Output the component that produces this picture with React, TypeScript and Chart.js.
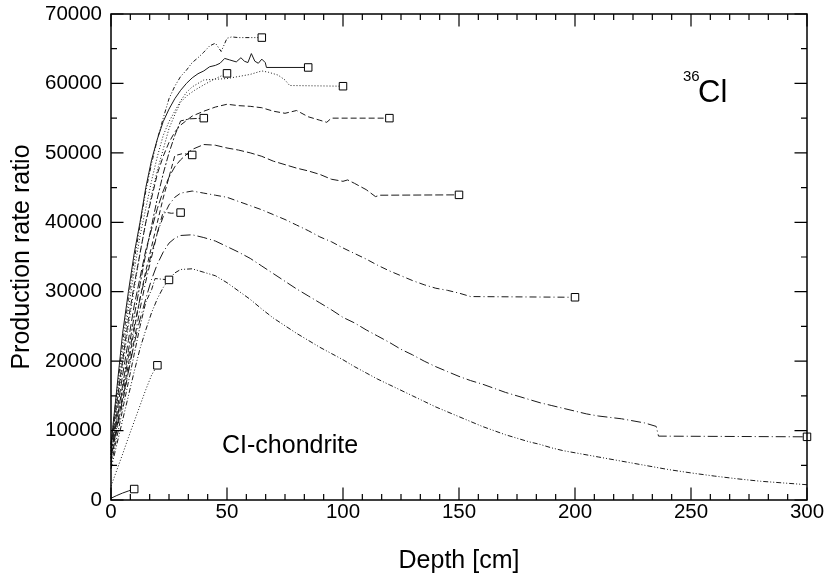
import React, { useEffect, useRef } from "react";
import { Chart, registerables } from "chart.js";

Chart.register(...registerables);

// ---------- axis ticks & texts ----------
const xTickValues = [0, 50, 100, 150, 200, 250, 300];
const yTickValues = [0, 10000, 20000, 30000, 40000, 50000, 60000, 70000];
const xTitle = "Depth [cm]";
const yTitle = "Production rate ratio";
const nuclideMass = "36";
const nuclideSymbol = "Cl";
const sampleLabel = "CI-chondrite";

// ---------- series (meteoroid radius in cm -> depth profile) ----------
const depth10 = [0, 2.5, 5, 7.5, 10];
const rate10 = [250, 650, 1000, 1300, 1580];

const depth20 = [0, 2.5, 5, 7.5, 10, 12.5, 15, 17.5, 20];
const rate20 = [2000, 4300, 6600, 9000, 11300, 13600, 15900, 18000, 19400];

const depth25 = [0, 2.5, 5, 7.5, 10, 12.5, 15, 17.5, 19, 22, 25];
const rate25 = [5000, 9000, 13000, 17000, 21000, 25000, 28500, 30300, 31900, 31800, 31700];

const depth30 = [0, 2.5, 5, 7.5, 10, 12.5, 15, 17.5, 20, 22.5, 26, 30];
const rate30 = [5500, 10000, 14000, 18500, 23000, 27500, 31500, 35000, 38500, 41500, 41300, 41400];

const depth35 = [0, 2.5, 5, 7.5, 10, 12.5, 15, 17.5, 20, 22.5, 25, 27.5, 31, 35];
const rate35 = [6000, 10500, 15000, 19500, 24500, 29000, 33000, 36500, 40000, 43500, 46500, 49600, 49900, 49700];

const depth40 = [0, 2.5, 5, 7.5, 10, 12.5, 15, 17.5, 20, 22.5, 25, 27.5, 30, 34, 40];
const rate40 = [6500, 11500, 16500, 21500, 26500, 31000, 35500, 39500, 43500, 47000, 50000, 52500, 54600, 54900, 55000];

const depth50 = [0, 2.5, 5, 7.5, 10, 12.5, 15, 17.5, 20, 22.5, 25, 27.5, 30, 33, 36, 40, 45, 50];
const rate50 = [7000, 13500, 19500, 25000, 30500, 35500, 40000, 44000, 47500, 50500, 53500, 55500, 57300, 58300, 59000, 59800, 60700, 61450];

const depth65 = [0, 2.5, 5, 7.5, 10, 12.5, 15, 17.5, 20, 22.5, 25, 27.5, 30, 32.5, 35, 37.5, 40, 42.5, 45, 47.5, 50, 52, 55, 60, 65];
const rate65 = [8000, 15500, 22500, 29000, 34500, 39500, 44500, 48500, 52000, 55000, 57800, 59600, 61000, 61900, 63000, 63700, 64500, 65400, 65800, 64600, 66500, 66700, 66600, 66600, 66600];

const depth85 = [0, 2.5, 5, 7.5, 10, 12.5, 15, 17.5, 20, 22.5, 25, 27.5, 30, 32.5, 35, 37.5, 40, 42.5, 45, 47, 49, 51, 54, 56, 57.5, 59, 60.5, 62, 63.5, 65, 66.5, 67, 85];
const rate85 = [8000, 16000, 24000, 30000, 35500, 40000, 45000, 49000, 52000, 54500, 56300, 57800, 59000, 60000, 60800, 61400, 61800, 62400, 62600, 62900, 63600, 63400, 63100, 63700, 63200, 63000, 64300, 63200, 62900, 63500, 63000, 62300, 62300];

const depth100 = [0, 2.5, 5, 7.5, 10, 12.5, 15, 17.5, 20, 22.5, 25, 27.5, 30, 32.5, 35, 37.5, 40, 45, 50, 55, 60, 65, 68, 72, 75, 77, 100];
const rate100 = [7500, 14500, 21000, 27500, 33000, 38000, 42000, 46000, 49500, 52500, 54500, 56000, 57500, 58700, 59500, 60000, 60500, 60600, 60700, 61000, 61300, 61800, 61600, 61200, 60500, 59700, 59600];

const depth120 = [0, 2.5, 5, 7.5, 10, 12.5, 15, 17.5, 20, 22.5, 25, 27.5, 30, 35, 40, 45, 50, 55, 60, 65, 70, 75, 80, 85, 90, 93, 95, 120];
const rate120 = [7500, 14000, 20000, 26000, 31000, 35500, 40000, 43500, 47000, 49500, 51500, 53000, 54000, 55300, 56000, 56600, 57000, 56800, 56700, 56500, 56000, 55700, 56100, 55200, 54700, 54400, 55000, 55000];

const depth150 = [0, 2.5, 5, 7.5, 10, 12.5, 15, 17.5, 20, 22.5, 25, 27.5, 30, 35, 40, 45, 50, 55, 60, 65, 70, 75, 80, 85, 90, 95, 100, 102, 105, 110, 114, 116, 150];
const rate150 = [7000, 12500, 18000, 23000, 28000, 32000, 36000, 39000, 42000, 44500, 46500, 48000, 49000, 50500, 51200, 51100, 50700, 50400, 50000, 49500, 48800, 48300, 47800, 47400, 46900, 46200, 45900, 46100, 45600, 44700, 43700, 43900, 43950];

const depth200 = [0, 2.5, 5, 7.5, 10, 12.5, 15, 17.5, 20, 22.5, 25, 27.5, 30, 35, 40, 45, 50, 55, 60, 65, 70, 75, 80, 85, 90, 95, 100, 105, 110, 115, 120, 125, 130, 135, 140, 145, 150, 155, 200];
const rate200 = [6500, 11500, 16000, 20500, 25000, 29000, 32500, 35500, 38500, 40800, 42500, 43600, 44200, 44500, 44200, 43900, 43600, 43000, 42400, 41800, 41100, 40400, 39600, 38800, 37900, 37200, 36300, 35500, 34700, 33800, 33000, 32300, 31600, 31000, 30500, 30200, 29800, 29300, 29200];

const depth300 = [0, 2.5, 5, 7.5, 10, 12.5, 15, 17.5, 20, 22.5, 25, 27.5, 30, 35, 40, 45, 50, 55, 60, 65, 70, 75, 80, 85, 90, 95, 100, 105, 110, 115, 120, 125, 130, 135, 140, 145, 150, 155, 160, 165, 170, 175, 180, 185, 190, 195, 200, 205, 210, 215, 220, 225, 230, 235, 236, 300];
const rate300 = [6000, 10500, 14500, 18500, 22500, 26000, 29000, 31800, 34000, 35700, 37000, 37700, 38100, 38200, 37800, 37300, 36500, 35700, 34800, 33700, 32600, 31500, 30400, 29400, 28400, 27400, 26300, 25500, 24500, 23600, 22700, 21700, 20900, 20000, 19200, 18500, 17800, 17200, 16700, 16100, 15500, 15000, 14500, 14000, 13600, 13200, 12800, 12400, 12100, 11900, 11700, 11400, 11100, 10600, 9200, 9100];

const depth500 = [0, 2.5, 5, 7.5, 10, 12.5, 15, 17.5, 20, 22.5, 25, 27.5, 30, 35, 40, 45, 50, 55, 60, 65, 70, 75, 80, 85, 90, 95, 100, 105, 110, 115, 120, 125, 130, 135, 140, 145, 150, 155, 160, 165, 170, 175, 180, 185, 190, 195, 200, 210, 220, 230, 240, 250, 260, 270, 280, 290, 300];
const rate500 = [4500, 8000, 11500, 15000, 18500, 21800, 24500, 27000, 29000, 30600, 31800, 32700, 33200, 33300, 32800, 32300, 31300, 30100, 28900, 27500, 26200, 25100, 24000, 23000, 22000, 21100, 20200, 19200, 18300, 17400, 16600, 15800, 15000, 14200, 13400, 12700, 12000, 11300, 10600, 10000, 9400, 8900, 8400, 8000, 7500, 7100, 6800, 6200, 5600, 5000, 4400, 3900, 3450, 3050, 2700, 2450, 2200];

// ---------- series table (built from the arrays above) ----------
const seriesTable = [
  { depth: depth10, rate: rate10, dash: [], marker: true },
  { depth: depth20, rate: rate20, dash: [1, 2], marker: true },
  { depth: depth25, rate: rate25, dash: [5, 2, 1, 2], marker: true },
  { depth: depth30, rate: rate30, dash: [6, 3, 1, 3], marker: true },
  { depth: depth35, rate: rate35, dash: [5, 3], marker: true },
  { depth: depth40, rate: rate40, dash: [7, 2, 2, 2], marker: true },
  { depth: depth50, rate: rate50, dash: [1, 2], marker: true },
  { depth: depth65, rate: rate65, dash: [4, 2, 1, 2, 1, 2], marker: true },
  { depth: depth85, rate: rate85, dash: [], marker: true },
  { depth: depth100, rate: rate100, dash: [1, 2], marker: true },
  { depth: depth120, rate: rate120, dash: [6, 3], marker: true },
  { depth: depth150, rate: rate150, dash: [8, 3], marker: true },
  { depth: depth200, rate: rate200, dash: [7, 3, 1, 3], marker: true },
  { depth: depth300, rate: rate300, dash: [10, 3, 1, 3], marker: true },
  { depth: depth500, rate: rate500, dash: [5, 2, 1, 2, 1, 2], marker: false },
];

const FONT = '"Liberation Sans", Arial, Helvetica, sans-serif';

const framePlugin = {
  id: "rootFrame",
  afterDraw(chart: any) {
    const { ctx, chartArea: a } = chart;
    const xs = chart.scales.x;
    const ys = chart.scales.y;
    ctx.save();
    ctx.strokeStyle = "#000";
    ctx.lineWidth = 1.5;
    ctx.strokeRect(a.left, a.top, a.right - a.left, a.bottom - a.top);

    const major = 12.5;
    const minor = 6;
    ctx.lineWidth = 1.2;
    ctx.beginPath();
    // x ticks (inward, bottom and top)
    for (let i = 0; i < xTickValues.length; i++) {
      const px = xs.getPixelForValue(xTickValues[i]);
      ctx.moveTo(px, a.bottom); ctx.lineTo(px, a.bottom - major);
      ctx.moveTo(px, a.top); ctx.lineTo(px, a.top + major);
      if (i < xTickValues.length - 1) {
        const step = (xTickValues[i + 1] - xTickValues[i]) / 6;
        for (let k = 1; k < 6; k++) {
          const mx = xs.getPixelForValue(xTickValues[i] + k * step);
          ctx.moveTo(mx, a.bottom); ctx.lineTo(mx, a.bottom - minor);
          ctx.moveTo(mx, a.top); ctx.lineTo(mx, a.top + minor);
        }
      }
    }
    // y ticks (inward, left and right)
    for (let i = 0; i < yTickValues.length; i++) {
      const py = ys.getPixelForValue(yTickValues[i]);
      ctx.moveTo(a.left, py); ctx.lineTo(a.left + major, py);
      ctx.moveTo(a.right, py); ctx.lineTo(a.right - major, py);
      if (i < yTickValues.length - 1) {
        const my = ys.getPixelForValue((yTickValues[i] + yTickValues[i + 1]) / 2);
        ctx.moveTo(a.left, my); ctx.lineTo(a.left + minor, my);
        ctx.moveTo(a.right, my); ctx.lineTo(a.right - minor, my);
      }
    }
    ctx.stroke();

    // axis titles
    ctx.fillStyle = "#000";
    ctx.font = `25px ${FONT}`;
    ctx.textAlign = "center";
    ctx.textBaseline = "alphabetic";
    ctx.fillText(xTitle, (a.left + a.right) / 2, 568);
    ctx.save();
    ctx.translate(28.5, (a.top + a.bottom) / 2);
    ctx.rotate(-Math.PI / 2);
    ctx.fillText(yTitle, 0, 0);
    ctx.restore();

    // annotations
    ctx.textAlign = "left";
    ctx.font = `25px ${FONT}`;
    ctx.fillText(sampleLabel, 222, 452.5);
    ctx.font = `31px ${FONT}`;
    ctx.fillText(nuclideSymbol, 698, 102);
    ctx.font = `15px ${FONT}`;
    ctx.fillText(nuclideMass, 683, 81);
    ctx.restore();
  },
};

export default function App() {
  const canvasRef = useRef<HTMLCanvasElement | null>(null);

  useEffect(() => {
    const canvas = canvasRef.current;
    if (!canvas) return;
    const datasets = seriesTable.map((s, idx) => {
      const n = s.depth.length;
      return {
        label: "R" + idx,
        data: s.depth.map((d, i) => ({ x: d, y: s.rate[i] })),
        borderColor: "#1a1a1a",
        borderWidth: 1,
        borderDash: s.dash,
        fill: false,
        tension: 0,
        clip: false as any,
        pointStyle: "rect",
        pointRadius: (c: any) => (s.marker && c.dataIndex === n - 1 ? 5.3 : 0),
        pointHoverRadius: 0,
        pointBackgroundColor: "#fff",
        pointBorderColor: "#000",
        pointBorderWidth: 1,
      };
    });

    const chart = new Chart(canvas, {
      type: "line",
      data: { datasets },
      options: {
        responsive: false,
        animation: false,
        events: [],
        layout: { padding: { left: 0, top: 14, right: 18, bottom: 0 } },
        plugins: {
          legend: { display: false },
          tooltip: { enabled: false },
        },
        scales: {
          x: {
            type: "linear",
            min: 0,
            max: 300,
            grid: { display: false, drawTicks: false },
            border: { display: false },
            afterBuildTicks: (scale: any) => {
              scale.ticks = xTickValues.map((v) => ({ value: v }));
            },
            afterFit: (scale: any) => {
              scale.height = 77;
              scale.paddingLeft = 0;
              scale.paddingRight = 0;
            },
            ticks: {
              padding: 0,
              color: "#000",
              maxRotation: 0,
              font: { family: FONT, size: 20.5 },
              callback: (v: any) => String(v),
            },
          },
          y: {
            type: "linear",
            min: 0,
            max: 70000,
            grid: { display: false, drawTicks: false },
            border: { display: false },
            afterBuildTicks: (scale: any) => {
              scale.ticks = yTickValues.map((v) => ({ value: v }));
            },
            afterFit: (scale: any) => {
              scale.width = 111;
              scale.paddingTop = 0;
              scale.paddingBottom = 0;
            },
            ticks: {
              padding: 9,
              color: "#000",
              font: { family: FONT, size: 20.5 },
              callback: (v: any) => String(v),
            },
          },
        },
      },
      plugins: [framePlugin],
    } as any);

    return () => chart.destroy();
  }, []);

  return (
    <div style={{ position: "fixed", left: 0, top: 0, width: 825, height: 577, background: "#fff" }}>
      <canvas ref={canvasRef} width={825} height={577} style={{ display: "block" }} />
    </div>
  );
}
